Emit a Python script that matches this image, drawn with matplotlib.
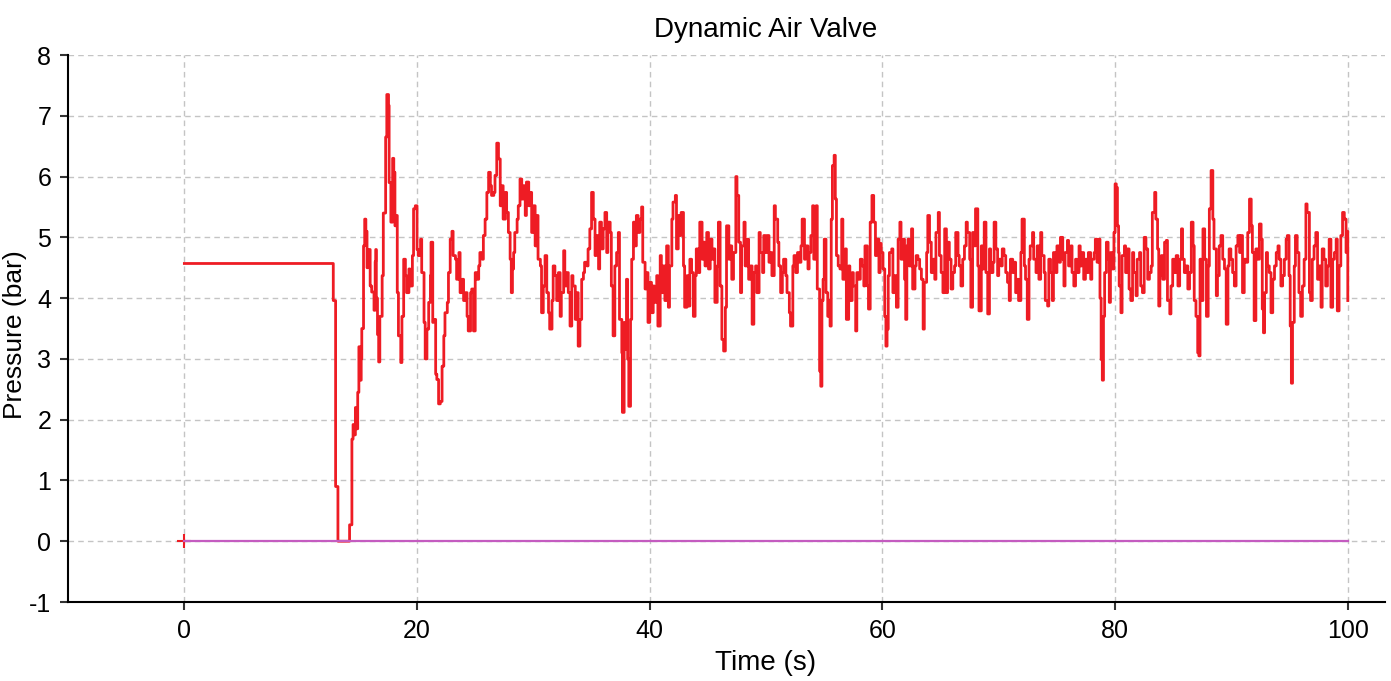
import matplotlib
matplotlib.use("Agg")
from matplotlib import pyplot as plt

# pressure trace (time in s, pressure in bar), drawn as steps
time_s = [
    0.0, 12.8, 13.0, 13.2, 14.2, 14.4, 14.5, 14.6, 14.7, 14.8,
    14.9, 15.0, 15.1, 15.2, 15.25, 15.4, 15.5, 15.6, 15.7, 15.8,
    15.97, 16.1, 16.3, 16.4, 16.45, 16.5, 16.6, 16.7, 16.8, 17.0,
    17.1, 17.3, 17.4, 17.55, 17.6, 17.75, 17.9, 18.0, 18.1, 18.2,
    18.3, 18.4, 18.6, 18.7, 18.85, 19.0, 19.1, 19.3, 19.4, 19.6,
    19.7, 19.85, 20.0, 20.1, 20.3, 20.4, 20.6, 20.7, 20.85, 21.0,
    21.15, 21.2, 21.35, 21.4, 21.6, 21.7, 21.85, 22.0, 22.15, 22.3,
    22.4, 22.6, 22.7, 22.85, 23.0, 23.1, 23.3, 23.4, 23.6, 23.7,
    23.85, 24.0, 24.15, 24.3, 24.4, 24.6, 24.7, 24.85, 25.0, 25.15,
    25.3, 25.4, 25.6, 25.7, 25.85, 26.0, 26.15, 26.3, 26.4, 26.6,
    26.7, 26.85, 27.0, 27.15, 27.3, 27.4, 27.6, 27.7, 27.85, 28.0,
    28.1, 28.2, 28.3, 28.4, 28.6, 28.7, 28.85, 29.0, 29.15, 29.3,
    29.4, 29.6, 29.7, 29.85, 30.0, 30.15, 30.3, 30.4, 30.6, 30.7,
    30.85, 31.0, 31.15, 31.3, 31.4, 31.6, 31.7, 31.85, 32.0, 32.15,
    32.3, 32.4, 32.6, 32.7, 32.85, 33.0, 33.15, 33.3, 33.4, 33.6,
    33.7, 33.85, 34.0, 34.15, 34.3, 34.4, 34.6, 34.7, 34.85, 35.0,
    35.15, 35.3, 35.4, 35.6, 35.7, 35.85, 36.0, 36.15, 36.3, 36.4,
    36.6, 36.7, 36.85, 37.0, 37.15, 37.3, 37.4, 37.6, 37.65, 37.8,
    37.9, 38.0, 38.1, 38.2, 38.35, 38.45, 38.6, 38.7, 38.85, 39.0,
    39.15, 39.3, 39.4, 39.6, 39.7, 39.85, 40.0, 40.15, 40.3, 40.4,
    40.6, 40.7, 40.9, 41.0, 41.15, 41.3, 41.45, 41.6, 41.7, 41.9,
    42.0, 42.2, 42.3, 42.45, 42.6, 42.7, 42.9, 43.0, 43.2, 43.3,
    43.45, 43.6, 43.75, 43.9, 44.0, 44.2, 44.3, 44.5, 44.6, 44.75,
    44.9, 45.05, 45.2, 45.35, 45.5, 45.6, 45.8, 45.9, 46.05, 46.2,
    46.35, 46.5, 46.6, 46.8, 46.9, 47.05, 47.2, 47.4, 47.5, 47.65,
    47.8, 47.9, 48.1, 48.2, 48.4, 48.5, 48.65, 48.8, 48.95, 49.1,
    49.2, 49.4, 49.5, 49.7, 49.8, 49.95, 50.1, 50.25, 50.4, 50.5,
    50.7, 50.8, 51.0, 51.1, 51.25, 51.4, 51.5, 51.7, 51.8, 52.0,
    52.1, 52.3, 52.4, 52.55, 52.7, 52.85, 53.0, 53.1, 53.3, 53.4,
    53.6, 53.7, 53.85, 54.0, 54.1, 54.3, 54.4, 54.6, 54.7, 54.8,
    54.9, 55.0, 55.15, 55.3, 55.4, 55.5, 55.6, 55.7, 55.85, 55.95,
    56.05, 56.2, 56.35, 56.5, 56.6, 56.8, 56.9, 57.1, 57.2, 57.4,
    57.5, 57.7, 57.8, 57.95, 58.1, 58.25, 58.4, 58.5, 58.7, 58.8,
    58.95, 59.1, 59.25, 59.4, 59.5, 59.7, 59.8, 59.9, 60.05, 60.2,
    60.3, 60.4, 60.5, 60.6, 60.8, 60.9, 61.05, 61.2, 61.35, 61.5,
    61.6, 61.8, 61.9, 62.0, 62.1, 62.2, 62.3, 62.5, 62.6, 62.8,
    62.9, 63.05, 63.2, 63.35, 63.5, 63.6, 63.8, 63.9, 64.05, 64.2,
    64.35, 64.5, 64.6, 64.8, 64.9, 65.05, 65.2, 65.35, 65.5, 65.6,
    65.75, 65.9, 66.05, 66.2, 66.3, 66.5, 66.6, 66.75, 66.9, 67.05,
    67.2, 67.3, 67.5, 67.6, 67.75, 67.9, 68.0, 68.2, 68.3, 68.5,
    68.6, 68.75, 68.9, 69.05, 69.2, 69.3, 69.5, 69.6, 69.75, 69.9,
    70.0, 70.2, 70.3, 70.45, 70.6, 70.75, 70.9, 71.0, 71.2, 71.3,
    71.45, 71.6, 71.7, 71.9, 72.0, 72.2, 72.3, 72.45, 72.6, 72.7,
    72.9, 73.0, 73.2, 73.3, 73.45, 73.6, 73.7, 73.9, 74.0, 74.2,
    74.3, 74.45, 74.6, 74.7, 74.9, 75.0, 75.2, 75.3, 75.5, 75.6,
    75.7, 75.9, 76.0, 76.2, 76.3, 76.45, 76.6, 76.7, 76.9, 77.0,
    77.15, 77.3, 77.45, 77.6, 77.7, 77.9, 78.0, 78.2, 78.3, 78.45,
    78.6, 78.7, 78.8, 78.9, 79.0, 79.1, 79.25, 79.4, 79.5, 79.6,
    79.75, 79.9, 80.0, 80.1, 80.2, 80.3, 80.35, 80.5, 80.6, 80.8,
    80.9, 81.05, 81.2, 81.35, 81.5, 81.6, 81.8, 81.9, 82.1, 82.2,
    82.35, 82.5, 82.65, 82.8, 82.95, 83.1, 83.2, 83.4, 83.5, 83.65,
    83.75, 83.85, 83.97, 84.1, 84.25, 84.4, 84.5, 84.7, 84.8, 84.95,
    85.1, 85.25, 85.4, 85.55, 85.7, 85.8, 85.95, 86.1, 86.25, 86.4,
    86.55, 86.7, 86.8, 86.95, 87.1, 87.2, 87.3, 87.4, 87.55, 87.7,
    87.85, 88.0, 88.1, 88.25, 88.4, 88.5, 88.7, 88.8, 88.95, 89.1,
    89.25, 89.4, 89.55, 89.7, 89.8, 89.95, 90.1, 90.25, 90.4, 90.55,
    90.7, 90.8, 90.95, 91.1, 91.25, 91.4, 91.55, 91.7, 91.8, 91.95,
    92.1, 92.25, 92.4, 92.55, 92.65, 92.75, 92.85, 93.0, 93.1, 93.25,
    93.4, 93.55, 93.7, 93.85, 94.0, 94.1, 94.25, 94.4, 94.55, 94.7,
    94.8, 94.95, 95.05, 95.15, 95.25, 95.4, 95.5, 95.65, 95.8, 95.95,
    96.1, 96.25, 96.4, 96.5, 96.7, 96.8, 96.95, 97.1, 97.25, 97.4,
    97.55, 97.7, 97.8, 97.95, 98.1, 98.25, 98.4, 98.55, 98.7, 98.85,
    99.0, 99.1, 99.25, 99.4, 99.55, 99.7, 99.85, 99.95, 100.0,
]
pressure_bar = [
    4.57, 3.96, 0.90, 0.00, 0.27, 1.68, 1.92, 1.75, 2.20, 1.85,
    2.45, 3.20, 2.65, 3.00, 3.50, 4.86, 5.30, 5.10, 4.50, 4.80,
    4.20, 4.10, 3.80, 4.60, 4.80, 4.00, 3.40, 2.95, 3.70, 4.37,
    5.40, 6.65, 7.35, 7.17, 5.90, 5.25, 6.30, 6.07, 5.19, 5.36,
    4.09, 3.38, 2.94, 3.70, 4.64, 4.37, 4.09, 4.48, 4.20, 4.70,
    5.47, 5.52, 4.80, 4.70, 4.97, 4.42, 3.60, 3.00, 3.49, 3.93,
    4.37, 4.92, 3.60, 3.65, 2.75, 2.66, 2.26, 2.30, 2.88, 3.38,
    3.76, 3.93, 4.42, 4.97, 5.10, 4.70, 4.64, 4.31, 4.75, 4.09,
    4.31, 3.96, 4.09, 3.70, 3.46, 4.09, 4.15, 3.46, 4.42, 4.31,
    4.53, 4.75, 4.64, 5.03, 5.30, 5.74, 6.07, 5.85, 5.69, 5.74,
    6.02, 6.55, 6.29, 5.52, 5.85, 5.30, 5.74, 5.41, 5.08, 4.64,
    4.09, 4.48, 4.75, 5.08, 5.30, 5.52, 5.96, 5.63, 5.85, 5.36,
    5.91, 5.52, 5.74, 5.08, 5.52, 4.86, 5.36, 4.64, 4.53, 3.76,
    4.20, 4.70, 4.09, 3.76, 3.49, 3.96, 4.53, 4.37, 3.96, 4.42,
    3.70, 4.09, 4.78, 4.20, 4.42, 4.09, 3.54, 4.37, 4.20, 3.65,
    4.09, 3.21, 3.65, 4.31, 4.42, 4.59, 4.53, 4.81, 5.14, 5.74,
    5.30, 4.70, 5.03, 4.48, 5.25, 4.81, 5.14, 5.41, 4.75, 5.25,
    5.08, 4.20, 3.38, 4.53, 4.75, 5.08, 3.65, 3.10, 2.12, 3.60,
    3.16, 4.31, 3.00, 2.22, 3.65, 4.64, 5.25, 4.86, 5.36, 5.08,
    5.30, 5.50, 4.59, 4.15, 4.42, 3.60, 4.26, 3.76, 4.20, 3.93,
    4.37, 3.54, 4.70, 4.09, 4.53, 3.96, 4.86, 3.85, 4.53, 5.30,
    5.58, 5.69, 4.81, 5.36, 5.03, 5.41, 4.53, 3.85, 4.37, 3.87,
    4.64, 4.42, 3.70, 4.37, 4.81, 4.42, 5.25, 4.64, 4.92, 4.53,
    5.08, 4.48, 4.97, 4.64, 4.81, 3.93, 4.53, 5.25, 4.20, 3.32,
    3.13, 3.85, 5.19, 4.64, 4.86, 4.31, 4.75, 6.00, 5.69, 4.92,
    4.09, 4.86, 5.25, 4.53, 4.97, 4.31, 4.53, 3.57, 4.42, 4.53,
    4.09, 5.08, 4.75, 4.42, 5.03, 4.75, 5.03, 4.59, 4.75, 4.37,
    5.52, 5.30, 4.92, 4.53, 4.09, 4.42, 4.64, 4.37, 4.09, 3.76,
    3.54, 4.53, 4.70, 4.42, 4.75, 4.59, 4.86, 5.30, 4.64, 4.86,
    4.48, 4.75, 5.03, 5.52, 4.64, 5.52, 4.15, 2.80, 2.55, 3.96,
    4.31, 4.97, 4.09, 3.70, 3.96, 3.54, 5.30, 6.18, 6.35, 5.63,
    4.70, 4.53, 4.48, 5.30, 4.31, 4.81, 3.65, 4.53, 3.96, 4.42,
    4.20, 3.46, 4.42, 4.31, 4.64, 4.53, 4.20, 4.86, 4.20, 3.82,
    5.25, 5.69, 5.25, 4.70, 4.97, 4.42, 4.90, 4.75, 4.48, 3.70,
    3.21, 3.49, 4.37, 4.75, 4.81, 4.09, 4.37, 3.85, 4.97, 5.25,
    4.64, 4.97, 4.31, 3.65, 4.86, 4.97, 4.53, 5.14, 4.15, 4.53,
    4.70, 4.64, 4.48, 4.31, 3.49, 4.26, 4.75, 5.36, 4.92, 4.42,
    4.64, 4.31, 5.08, 5.41, 4.70, 4.42, 4.09, 5.14, 4.09, 4.92,
    4.64, 4.15, 4.42, 4.53, 5.08, 4.70, 4.53, 4.20, 4.64, 4.86,
    5.25, 5.08, 4.64, 3.85, 5.08, 4.86, 5.47, 4.53, 3.79, 4.86,
    4.48, 5.25, 4.42, 3.74, 4.81, 4.42, 4.59, 5.25, 4.81, 4.37,
    4.64, 4.53, 4.81, 4.70, 4.42, 4.26, 3.96, 4.64, 4.42, 4.59,
    4.09, 4.31, 3.96, 4.75, 5.30, 4.53, 4.31, 3.65, 4.64, 4.86,
    5.08, 4.64, 4.42, 4.86, 4.31, 5.08, 4.70, 4.42, 3.96, 3.87,
    4.64, 4.42, 3.96, 4.75, 4.42, 4.86, 4.59, 5.00, 4.64, 4.20,
    4.75, 4.95, 4.53, 4.86, 4.42, 4.20, 4.64, 4.42, 4.86, 4.53,
    4.75, 4.31, 4.64, 4.42, 4.75, 4.31, 4.64, 4.75, 4.97, 4.59,
    4.97, 4.00, 2.99, 2.65, 3.70, 4.42, 4.92, 4.64, 3.93, 4.75,
    4.48, 5.08, 5.88, 5.82, 5.19, 4.75, 4.20, 3.76, 4.70, 4.86,
    4.42, 4.81, 4.15, 3.96, 4.75, 4.42, 4.04, 4.64, 4.75, 4.20,
    4.09, 5.00, 4.81, 4.31, 4.42, 4.53, 5.41, 5.74, 5.30, 4.81,
    3.87, 4.37, 4.70, 4.31, 4.92, 4.95, 3.96, 3.74, 4.20, 4.64,
    4.42, 4.70, 4.20, 4.64, 5.14, 4.64, 4.42, 4.53, 4.15, 4.42,
    5.25, 4.86, 3.96, 3.70, 3.10, 3.05, 4.64, 3.96, 5.14, 4.64,
    3.70, 4.53, 5.47, 6.10, 5.30, 4.81, 4.04, 4.37, 4.86, 5.03,
    4.64, 4.48, 3.57, 4.53, 4.81, 4.64, 4.42, 4.20, 4.86, 5.03,
    4.75, 5.03, 4.09, 4.64, 4.59, 5.08, 5.63, 5.19, 4.75, 3.63,
    4.81, 4.64, 5.22, 4.97, 3.82, 3.43, 4.09, 4.75, 4.53, 4.42,
    3.76, 4.31, 4.53, 4.75, 4.86, 4.64, 4.20, 4.37, 4.64, 4.97,
    5.03, 4.37, 3.54, 2.60, 3.60, 4.53, 5.03, 4.75, 4.09, 3.70,
    4.20, 4.64, 5.55, 5.41, 4.09, 3.96, 4.64, 4.86, 5.08, 4.31,
    4.53, 3.85, 4.81, 4.64, 4.20, 4.53, 4.97, 3.85, 4.64, 4.75,
    4.97, 3.79, 4.53, 5.03, 5.41, 5.30, 4.75, 5.10, 3.96,
]

# second (flat) series
ref_time_s = [0.0, 100.0]
ref_pressure_bar = [0.0, 0.0]

x_ticks = [0, 20, 40, 60, 80, 100]
y_ticks = [-1, 0, 1, 2, 3, 4, 5, 6, 7, 8]

plt.rcParams['font.family'] = ['Liberation Sans', 'DejaVu Sans']
plt.rcParams['axes.unicode_minus'] = False

fig = plt.figure(figsize=(13.91, 6.81), dpi=100)
ax = fig.add_axes([0.0489, 0.116, 0.9468, 0.8032])

ax.plot(time_s, pressure_bar, color='#ee1c24', lw=2.0, drawstyle='steps-post', zorder=3)
ax.plot([0], [0], marker='+', ms=10, mew=1.5, color='#ee1c24', zorder=3)
ax.plot(ref_time_s, ref_pressure_bar, color='#c45cc0', lw=1.6, zorder=4)

ax.set_xlim(-10, 103.2)
ax.set_ylim(-1, 8)
ax.set_xticks(x_ticks)
ax.set_yticks(y_ticks)
ax.grid(True, color='#c4c4c4', lw=1, ls=(0, (4, 3)))
ax.set_axisbelow(True)

for side in ['top', 'right']:
    ax.spines[side].set_visible(False)
for side in ['left', 'bottom']:
    ax.spines[side].set_linewidth(1.5)
ax.tick_params(labelsize=18, length=6, width=1.5, color='#333333', pad=6)

ax.set_title('Dynamic Air Valve', fontsize=20, x=0.53, pad=13)
ax.set_xlabel('Time (s)', fontsize=20)
ax.xaxis.set_label_coords(0.53, -0.088)
ax.set_ylabel('Pressure (bar)', fontsize=19)
ax.yaxis.set_label_coords(-0.031, 0.488)

fig.savefig('out.png', dpi=100)
